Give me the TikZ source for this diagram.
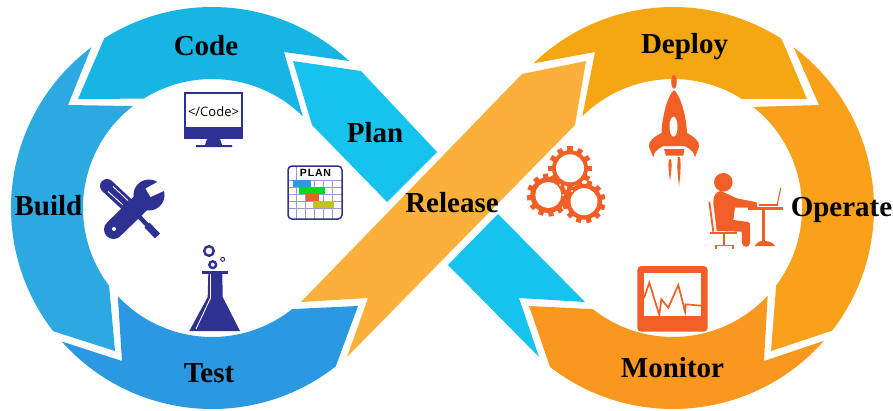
\documentclass[tikz,border=0pt]{standalone}
\usepackage{fontspec}
\setmainfont{Liberation Serif}
\newfontfamily\iconsans{Liberation Sans}
\newfontfamily\codesans{Open Sans}
\usetikzlibrary{calc}
\definecolor{ccode}{HTML}{16B5E4}
\definecolor{cbuild}{HTML}{2CA9E1}
\definecolor{ctest}{HTML}{2B98E2}
\definecolor{cplan}{HTML}{16C3EE}
\definecolor{crelease}{HTML}{FBB03B}
\definecolor{cdeploy}{HTML}{F4A713}
\definecolor{coperate}{HTML}{F9A11B}
\definecolor{cmonitor}{HTML}{F9971F}
\definecolor{cblue}{HTML}{2E3192}
\definecolor{cred}{HTML}{F15F26}
\definecolor{cgrid}{HTML}{9A9AD0}
\definecolor{barblue}{HTML}{2F9BDD}
\definecolor{bargreen}{HTML}{00DC14}
\definecolor{barorange}{HTML}{E4642A}
\definecolor{barolive}{HTML}{C4C21E}
\tikzset{
  lbl/.style={anchor=base,inner sep=0pt,text=black,font=\fontsize{29}{32}\selectfont\bfseries},
}
\newcommand{\gearat}[4]{%
  \begin{scope}[shift={(#1,#2)}]
    \foreach \a in {0,30,...,330}{\fill[cred,rotate=\a+#3] (-2.6,14) rectangle (2.6,#4);}
    \fill[cred] (0,0) circle[radius=18pt];
  \end{scope}}
\begin{document}
\begin{tikzpicture}[x=1pt,y=-1pt]
\useasboundingbox (0,0) rectangle (893,410);
\fill[white] (0,0) rectangle (893,410);
\coordinate (cl) at (212,208);
\coordinate (cr) at (673,208);
% ---- left ring
\fill[cbuild] (68,105) -- ($(cl)+(126.9:201pt)$) arc[start angle=126.9,end angle=217.8,radius=201pt]
  -- (115,351) -- ($(cl)+(217.1:129pt)$) arc[start angle=217.1,end angle=127.8,radius=129pt] -- cycle;
\fill[ccode] (78,99) -- ($(cl)+(122.4:201pt)$) arc[start angle=122.4,end angle=47,radius=201pt]
  -- (284,52) -- ($(cl)+(45.3:129pt)$) arc[start angle=45.3,end angle=122,radius=129pt] -- cycle;
\fill[ctest] (122,361) -- ($(cl)+(221.6:201pt)$) arc[start angle=221.6,end angle=308,radius=201pt]
  -- (358,306) -- ($(cl)+(308.4:129pt)$) arc[start angle=308.4,end angle=223.1,radius=129pt] -- cycle;
% ---- centre
\fill[cplan] (293,61) -- (361,71) -- (437,152) -- (387,202) -- (312,125) -- cycle;
\fill[cplan] (498,214) -- (585,302) -- (519,298) -- (539,357) -- (448,265) -- cycle;
\fill[crelease] (522,74) -- (586,61) -- (575,125) -- (347,357) -- (368,298) -- (301,302) -- cycle;
% ---- right ring
\fill[cdeploy] (595,52) -- ($(cr)+(134.7:129pt)$) arc[start angle=134.7,end angle=57.7,radius=129pt]
  -- (807,99) -- ($(cr)+(57.3:201pt)$) arc[start angle=57.3,end angle=134,radius=201pt] -- cycle;
\fill[coperate] (819,105) -- ($(cr)+(53.1:201pt)$) arc[start angle=53.1,end angle=-37.6,radius=201pt]
  -- (771,351) -- ($(cr)+(-36.9:129pt)$) arc[start angle=-36.9,end angle=51.6,radius=129pt] -- cycle;
\fill[cmonitor] (764,361) -- ($(cr)+(-41.4:201pt)$) arc[start angle=-41.4,end angle=-127.7,radius=201pt]
  -- (529,306) -- ($(cr)+(-128.4:129pt)$) arc[start angle=-128.4,end angle=-42.8,radius=129pt] -- cycle;
% ---- computer icon
\fill[cblue] (184,92) rectangle (243,139);
\fill[white] (186,94) rectangle (241,127);
\fill[cblue] (207,139) -- (220,139) -- (222,145) -- (232,145) -- (232,147) -- (196,147) -- (196,145) -- (205,145) -- cycle;
\node[inner sep=0pt,font=\codesans\fontsize{13}{15}\selectfont] (codetxt) at (213.5,111.5) {</Code>};
% ---- plan icon
\fill[white] (288,166) rectangle (342,219);
\foreach \gx in {296,305,314,323,332}{\draw[cgrid,line width=.6pt] (\gx,166) -- (\gx,219);}
\foreach \gy in {180,187,194,201,208}{\draw[cgrid,line width=.6pt] (288,\gy) -- (342,\gy);}
\fill[white] (296.5,167) rectangle (335,179.5);
\fill[barblue] (293,180) rectangle (311,187);
\fill[bargreen] (299,187) rectangle (325,194);
\fill[barorange] (305.5,194) rectangle (318.5,201);
\fill[barolive] (313,201) rectangle (334,208);
\draw[cblue,line width=1.5pt,rounded corners=4pt] (288,166) rectangle (342,219);
\node[inner sep=0pt,font=\iconsans\bfseries\fontsize{10.5}{12}\selectfont\addfontfeature{LetterSpace=8}] (plantxt) at (315.5,173) {PLAN};
% ---- tools icon
\draw[cblue,line width=19pt,line cap=round] (113.5,229.5) -- (147,197);
\fill[cblue] (149,195) circle[radius=15.5pt];
\fill[white] (145.5,188.5) -- (161,180) -- (166,190) -- (150.5,197) -- cycle;
\fill[white] (114,229) circle[radius=2pt];
\draw[cblue,line width=14pt,line cap=round] (107,186) -- (135,212);
\draw[white,line width=.9pt] (108,191.5) -- (123,205);
\draw[white,line width=.9pt] (113,186.5) -- (128,200.5);
\draw[cblue,line width=4.5pt] (135,212) -- (149,227);
\draw[cblue,line width=7pt] (147,225) -- (157.5,236);
% ---- flask icon
\draw[cblue,line width=2.4pt] (209,251) circle[radius=4.8pt];
\draw[cblue,line width=2.4pt] (212.7,264.7) circle[radius=3.4pt];
\draw[cblue,line width=1pt] (222.7,259.3) circle[radius=2pt];
\fill[cblue] (202.3,271) rectangle (227.7,274);
\fill[cblue] (208.3,274) -- (222.3,274) -- (222.7,297) -- (240,331) -- (189.3,331) -- (207.7,297) -- cycle;
\draw[white,line width=.9pt] (210.5,274) -- (210.5,298) -- (196,329);
% ---- gears icon
\gearat{570}{168.3}{0}{22}
\gearat{548.3}{195}{8}{21.5}
\gearat{584}{201.7}{14}{21.5}
\fill[white] (570,168.3) circle[radius=14pt];
\fill[white] (548.3,195) circle[radius=13pt];
\fill[white] (584,201.7) circle[radius=13.5pt];
\fill[white] (566,187) circle[radius=1.2pt] (572,191) circle[radius=1.2pt] (560,185) circle[radius=1pt] (563,195) circle[radius=1pt];
% ---- rocket icon
\fill[cred] (674,81.7) ellipse[x radius=2.8pt,y radius=7pt];
\fill[cred] (674,90) .. controls (667,96) and (662,118) .. (661.5,133)
  .. controls (654,137) and (648,141) .. (649,147) -- (653.3,157.3) .. controls (654,153) and (656,150) .. (659,148.5)
  -- (663.5,146) -- (684.5,146) -- (689,148.5) .. controls (692,150) and (694,153) .. (695,157.3)
  -- (699,147) .. controls (700,141) and (694,137) .. (687,133) .. controls (686.5,118) and (681,96) .. (674,90) -- cycle;
\fill[white] (673.5,126.7) ellipse[x radius=4pt,y radius=10pt];
\fill[cred] (664,149) -- (684.3,149) -- (683.3,155.7) -- (666,155.7) -- cycle;
\fill[cred] (669,159.3) .. controls (667.5,166) and (669.5,176) .. (670,181.7) .. controls (670.5,176) and (672.5,166) .. (671,159.3) -- cycle;
\fill[cred] (678,157) .. controls (676.5,166) and (678.3,180) .. (679,186.7) .. controls (679.7,180) and (681.5,166) .. (680,157) -- cycle;
% ---- person icon
\fill[cred] (723.3,182.3) circle[radius=9.3pt];
\fill[cred] (713.3,203) .. controls (713,196) and (716,191) .. (721,191) -- (736.7,198.3) -- (756.7,202.3) -- (757.3,207.7) -- (735,207.7) -- (733.3,220)
  -- (748,222) .. controls (750,222) and (750,224) .. (750,226) -- (750,243) .. controls (750,248) and (742.5,248) .. (742,243)
  -- (741.7,231.7) -- (716.7,231) -- cycle;
\draw[cred,line width=1.8pt] (709.3,201.7) -- (713.3,231.7);
\fill[cred] (710,231.7) rectangle (736.7,233.5);
\fill[cred] (723,233) rectangle (725,245);
\fill[cred] (715,244.5) rectangle (734,246.3);
\fill[cred] (715,246) rectangle (717,249);
\fill[cred] (732,246) rectangle (734,249);
\fill[cred] (748,207) rectangle (783,209.5);
\fill[cred] (762,209) rectangle (765,242);
\fill[cred] (755,246) .. controls (757,241.5) and (760,241) .. (763.5,241) .. controls (767,241) and (773,241.5) .. (775,246) -- cycle;
\draw[cred,line width=1.1pt] (780.7,187.7) -- (777.3,204.5);
\fill[cred] (759,204.3) rectangle (778,206.2);
% ---- monitor icon
\fill[cred,rounded corners=4pt] (637.3,266) rectangle (707.7,331.7);
\fill[white] (644,273.3) rectangle (701,316);
\draw[cred,line width=1.7pt,line join=miter] (644,298.3) -- (649.3,282.7) -- (659.3,315) -- (661.3,299.3) -- (668.3,307.7)
  -- (678.3,285) -- (685,311.7) -- (685.7,304.3) -- (701,305.7);
% ---- labels
\node[lbl] (code) at (206,55) {Code};
\node[lbl] (plan) at (375,142) {Plan};
\node[lbl] (build) at (48.5,215) {Build};
\node[lbl] (test) at (209,382) {Test};
\node[lbl] (release) at (452,212) {Release};
\node[lbl] (deploy) at (684.5,53) {Deploy};
\node[lbl] (operate) at (841.5,216.7) {Operate};
\node[lbl] (monitor) at (672.5,377) {Monitor};
\end{tikzpicture}
\end{document}
